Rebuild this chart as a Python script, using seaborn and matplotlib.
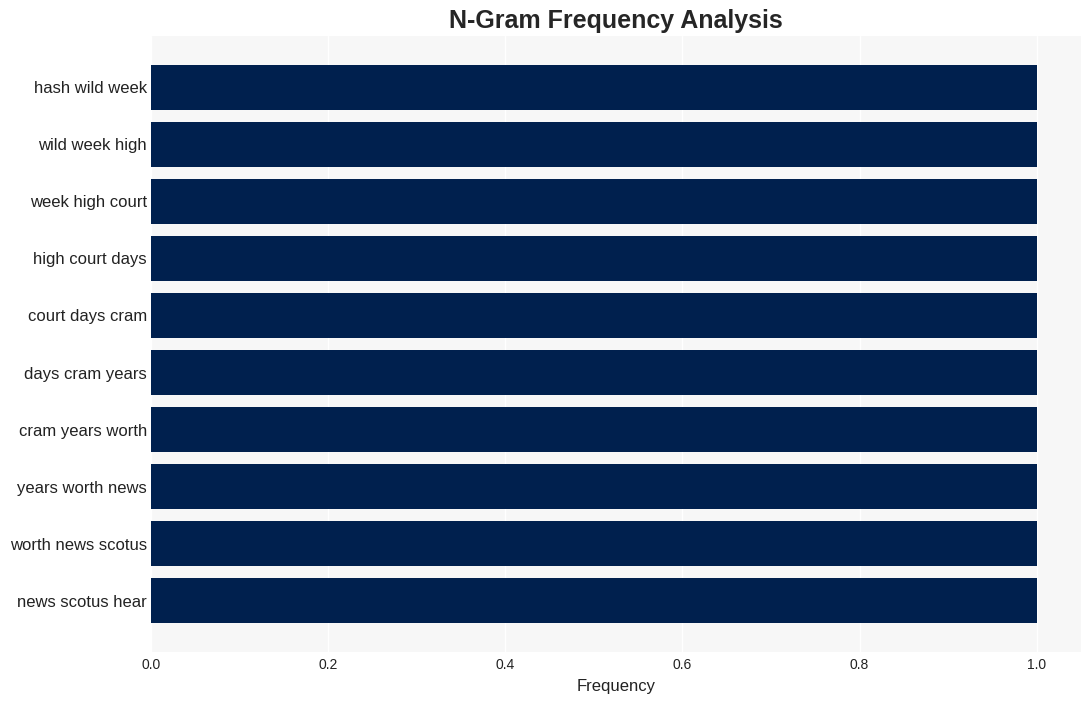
import matplotlib
matplotlib.use("Agg")
import matplotlib.pyplot as plt
import pandas as pd
import seaborn as sns

# n-grams and their frequencies
ngrams = ["hash wild week", "wild week high", "week high court", "high court days",
          "court days cram", "days cram years", "cram years worth",
          "years worth news", "worth news scotus", "news scotus hear"]
freqs = [1, 1, 1, 1, 1, 1, 1, 1, 1, 1]

df = pd.DataFrame({"ngram": ngrams, "freq": freqs})

sns.set_theme(style="darkgrid", rc={"axes.facecolor": "#F7F7F7", "grid.color": "white"})
plt.rcParams['font.family'] = ['Liberation Sans', 'DejaVu Sans']

fig = plt.figure(figsize=(10.91, 7.01), dpi=100)
ax = fig.add_axes([0.1384, 0.0699, 0.8524, 0.8787])
sns.barplot(data=df, x="freq", y="ngram", color="#00204E", saturation=1, width=0.8,
            linewidth=0, ax=ax)
ax.set_xlim(0, 1.05)
ax.set_ylim(9.9, -0.9)
ax.set_xticks([0, 0.2, 0.4, 0.6, 0.8, 1.0])
ax.set_xticklabels(["0.0", "0.2", "0.4", "0.6", "0.8", "1.0"])
ax.tick_params(axis="x", labelsize=10, colors="#222222", pad=4, length=0)
ax.tick_params(axis="y", labelsize=12, colors="#222222", pad=3, length=0)
ax.set_xlabel("Frequency", fontsize=12, color="#222222", labelpad=5)
ax.set_ylabel("")
ax.set_title("N-Gram Frequency Analysis", fontsize=18, fontweight="bold", pad=6)
for s in ax.spines.values():
    s.set_visible(False)
fig.savefig("out.png", dpi=100)
